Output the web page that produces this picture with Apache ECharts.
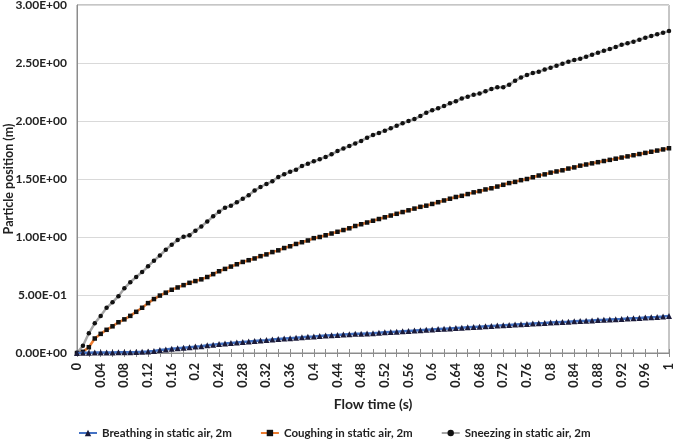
<!DOCTYPE html>
<html>
<head>
<meta charset="utf-8">
<script src="https://cdn.jsdelivr.net/npm/echarts@6/dist/echarts.min.js"></script>
<style>html,body{margin:0;padding:0;background:#fff}#c{width:676px;height:440px}</style>
</head>
<body>
<div id="c"></div>
<script>
const flowTime = ["0","0.01","0.02","0.03","0.04","0.05","0.06","0.07","0.08","0.09",
"0.1","0.11","0.12","0.13","0.14","0.15","0.16","0.17","0.18","0.19",
"0.2","0.21","0.22","0.23","0.24","0.25","0.26","0.27","0.28","0.29",
"0.3","0.31","0.32","0.33","0.34","0.35","0.36","0.37","0.38","0.39",
"0.4","0.41","0.42","0.43","0.44","0.45","0.46","0.47","0.48","0.49",
"0.5","0.51","0.52","0.53","0.54","0.55","0.56","0.57","0.58","0.59",
"0.6","0.61","0.62","0.63","0.64","0.65","0.66","0.67","0.68","0.69",
"0.7","0.71","0.72","0.73","0.74","0.75","0.76","0.77","0.78","0.79",
"0.8","0.81","0.82","0.83","0.84","0.85","0.86","0.87","0.88","0.89",
"0.9","0.91","0.92","0.93","0.94","0.95","0.96","0.97","0.98","0.99","1"];

const breathing = [0,0.002,0.003,0.004,0.004,0.005,0.005,0.006,0.006,0.007,
0.008,0.010,0.013,0.018,0.025,0.031,0.036,0.040,0.045,0.050,
0.055,0.059,0.066,0.072,0.077,0.081,0.086,0.091,0.095,0.099,
0.104,0.108,0.111,0.116,0.120,0.124,0.128,0.132,0.135,0.140,
0.143,0.147,0.150,0.153,0.156,0.159,0.162,0.165,0.167,0.169,
0.171,0.174,0.178,0.181,0.184,0.187,0.190,0.193,0.197,0.200,
0.203,0.206,0.209,0.212,0.215,0.218,0.221,0.224,0.227,0.230,
0.233,0.236,0.239,0.242,0.245,0.248,0.251,0.254,0.257,0.259,
0.262,0.265,0.268,0.270,0.273,0.276,0.278,0.281,0.284,0.286,
0.289,0.292,0.294,0.297,0.300,0.302,0.305,0.308,0.311,0.315,0.320];

const coughing = [0,0.01,0.05,0.125,0.165,0.2,0.23,0.265,0.29,0.32,
0.355,0.39,0.43,0.465,0.495,0.52,0.545,0.565,0.585,0.605,
0.62,0.635,0.655,0.68,0.705,0.725,0.745,0.765,0.785,0.80,
0.815,0.835,0.85,0.87,0.885,0.905,0.92,0.94,0.955,0.97,
0.99,1.00,1.015,1.03,1.045,1.06,1.075,1.095,1.11,1.125,
1.14,1.155,1.17,1.185,1.20,1.215,1.23,1.245,1.26,1.27,
1.285,1.30,1.315,1.33,1.345,1.355,1.37,1.385,1.395,1.41,
1.42,1.435,1.45,1.465,1.475,1.49,1.50,1.515,1.53,1.54,
1.555,1.565,1.575,1.59,1.60,1.615,1.625,1.635,1.645,1.655,
1.665,1.675,1.685,1.695,1.705,1.715,1.725,1.735,1.745,1.755,1.765];

const sneezing = [0,0.063,0.17,0.256,0.32,0.39,0.437,0.49,0.558,0.61,
0.655,0.698,0.747,0.796,0.84,0.89,0.934,0.974,1.003,1.015,
1.054,1.09,1.133,1.178,1.218,1.253,1.27,1.299,1.33,1.36,
1.40,1.431,1.457,1.48,1.517,1.54,1.563,1.58,1.612,1.632,
1.652,1.67,1.69,1.713,1.741,1.764,1.784,1.807,1.828,1.856,
1.879,1.897,1.917,1.937,1.96,1.98,2.0,2.017,2.043,2.072,
2.092,2.109,2.129,2.152,2.17,2.195,2.21,2.227,2.236,2.256,
2.276,2.29,2.292,2.313,2.348,2.374,2.397,2.414,2.425,2.443,
2.46,2.477,2.494,2.511,2.526,2.537,2.554,2.571,2.589,2.606,
2.621,2.638,2.658,2.67,2.684,2.701,2.718,2.733,2.747,2.761,2.775];

const yTickLabels = ["0.00E+00","5.00E-01","1.00E+00","1.50E+00","2.00E+00","2.50E+00","3.00E+00"];
const seriesNames = ["Breathing in static air, 2m","Coughing in static air, 2m","Sneezing in static air, 2m"];

const FONT = 'Lato';
const chart = echarts.init(document.getElementById('c'));
chart.setOption({
  animation: false,
  backgroundColor: '#fff',
  grid: {left: 77, right: 7, top: 5, bottom: 87, show: true, borderColor: '#8c8c8c', borderWidth: 1,
         containLabel: false, outerBoundsMode: 'none'},
  legend: {
    bottom: -4, left: 73, itemWidth: 18, itemHeight: 8, itemGap: 28,
    textStyle: {fontFamily: FONT, fontWeight: 'bold', fontSize: 11.5, color: '#222'},
    data: seriesNames
  },
  xAxis: [{
    type: 'category', data: flowTime, boundaryGap: false,
    name: 'Flow time (s)', nameLocation: 'middle', nameGap: 44, nameMoveOverlap: false,
    nameTextStyle: {fontFamily: FONT, fontWeight: 'bold', fontSize: 14, color: '#222'},
    axisLine: {lineStyle: {color: '#8c8c8c', width: 1}},
    axisTick: {interval: 1, length: 4, lineStyle: {color: '#8c8c8c'}},
    axisLabel: {interval: 3, rotate: 90, margin: 10, fontFamily: FONT, fontWeight: 'bold', fontSize: 12.5, color: '#222'},
    splitLine: {show: false}
  },{
    type: 'category', data: flowTime, boundaryGap: false, position: 'bottom',
    axisLine: {show: false},
    axisTick: {interval: 1, length: 4, inside: true, lineStyle: {color: '#8c8c8c'}},
    axisLabel: {show: false}, splitLine: {show: false}
  }],
  yAxis: {
    type: 'value', min: 0, max: 3, interval: 0.5,
    name: 'Particle position (m)', nameLocation: 'middle', nameGap: 62, nameMoveOverlap: false,
    nameTextStyle: {fontFamily: FONT, fontWeight: 'bold', fontSize: 12.5, color: '#222'},
    axisLine: {show: true, lineStyle: {color: '#8c8c8c'}},
    axisTick: {show: false},
    axisLabel: {
      fontFamily: FONT, fontWeight: 'bold', fontSize: 12, color: '#222', margin: 10,
      formatter: function (v) { return yTickLabels[Math.round(v / 0.5)]; }
    },
    splitLine: {lineStyle: {color: '#d9d9d9', width: 1}}
  },
  series: [{
    name: seriesNames[0], type: 'line', data: breathing, showAllSymbol: true,
    symbol: 'triangle', symbolSize: 6,
    lineStyle: {color: '#4472C4', width: 2.5}, itemStyle: {color: '#1a1a3a', borderWidth: 0},
    z: 3
  },{
    name: seriesNames[1], type: 'line', data: coughing, showAllSymbol: true,
    symbol: 'rect', symbolSize: 4.5,
    lineStyle: {color: '#ED7D31', width: 2.5}, itemStyle: {color: '#111', borderWidth: 0},
    z: 2
  },{
    name: seriesNames[2], type: 'line', data: sneezing, showAllSymbol: true,
    symbol: 'circle', symbolSize: 4.5,
    lineStyle: {color: '#A5A5A5', width: 2.5}, itemStyle: {color: '#111', borderWidth: 0},
    z: 1
  }]
});
</script>
</body>
</html>
